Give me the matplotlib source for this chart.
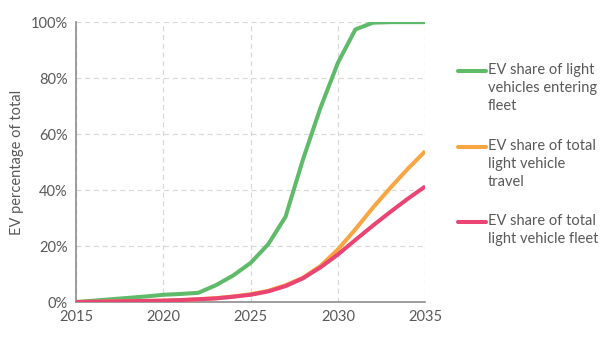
import matplotlib
matplotlib.use("Agg")
import matplotlib.pyplot as plt
from matplotlib.lines import Line2D
from matplotlib.ticker import PercentFormatter

plt.rcParams['font.family'] = ['Lato', 'DejaVu Sans']

years = list(range(2015, 2036))
entering = [0, 0.5, 1.0, 1.5, 2.0, 2.6, 2.9, 3.3, 6.0, 9.5, 14.0, 20.6, 30.5, 51.0,
            69.4, 85.5, 97.4, 99.8, 100, 100, 100]
travel = [0, 0.1, 0.2, 0.3, 0.4, 0.5, 0.7, 1.0, 1.4, 2.0, 2.8, 4.0, 6.0, 8.7,
          12.9, 18.8, 26.0, 33.7, 40.8, 47.6, 53.9]
fleet = [0, 0.1, 0.2, 0.3, 0.4, 0.5, 0.7, 1.0, 1.3, 1.9, 2.6, 3.8, 5.7, 8.5,
         12.4, 17.0, 22.2, 27.3, 32.2, 36.9, 41.3]

labels = ["EV share of light\nvehicles entering\nfleet",
          "EV share of total\nlight vehicle\ntravel",
          "EV share of total\nlight vehicle fleet"]
colors = ["#5fbb6a", "#f9a541", "#ea4472"]
gray = "#595959"

fig = plt.figure(figsize=(6.04, 3.46), dpi=100)
ax = fig.add_axes([0.126, 0.127, 0.578, 0.809])

for vals, c in zip([entering, travel, fleet], colors):
    ax.plot(years, vals, color=c, lw=2.9, solid_capstyle='butt', zorder=3)

ax.set_xlim(2015, 2035)
ax.set_ylim(0, 100)
ax.set_xticks(range(2015, 2036, 5))
ax.set_yticks(range(0, 101, 20))
ax.yaxis.set_major_formatter(PercentFormatter(decimals=0))
ax.grid(True, color="#d9d9d9", linestyle=(0, (4, 3)), lw=0.9)
ax.set_axisbelow(True)
for s in ['top', 'right']:
    ax.spines[s].set_visible(False)
for s in ['left', 'bottom']:
    ax.spines[s].set_color("#8c8c8c")
    ax.spines[s].set_linewidth(1.2)
ax.tick_params(length=0, labelsize=10.5, colors=gray, pad=6)
ax.set_ylabel("EV percentage of total", fontsize=10.5, color=gray, labelpad=5)

# legend drawn by hand so the handle sits on the first text line
W, H = 604, 346
for i, (lab, c) in enumerate(zip(labels, colors)):
    ytop = [63, 139, 214][i]
    yl = 1 - (ytop + 8) / H
    fig.add_artist(Line2D([458 / W, 486 / W], [yl, yl], color=c, lw=2.9,
                          solid_capstyle='round', transform=fig.transFigure))
    fig.text(488 / W, 1 - ytop / H, lab, fontsize=10.5, color=gray,
             va='top', ha='left', linespacing=1.38)

fig.savefig("out.png", dpi=100)
